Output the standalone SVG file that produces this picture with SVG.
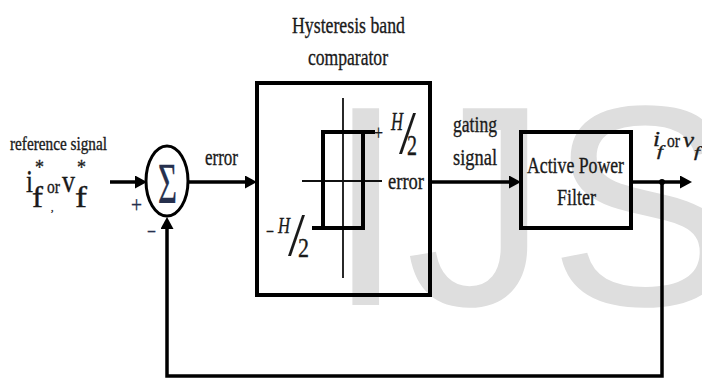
<svg xmlns="http://www.w3.org/2000/svg" width="702" height="379" viewBox="0 0 702 379">
<style>
  text { font-family: "Liberation Serif", "Times New Roman", serif; fill: #1a1a1a; stroke: #1a1a1a; stroke-width: 0.35; }
  .it { font-style: italic; }
  .wm { font-family: "Liberation Sans", Arial, sans-serif; fill: #dedede; stroke: none; font-size: 286px; }
  .box { fill: none; stroke: #000; stroke-width: 4; }
  .wire { fill: none; stroke: #000; stroke-width: 3.5; }
  .axis { fill: none; stroke: #111; stroke-width: 1.8; }
  .loop { fill: none; stroke: #000; stroke-width: 4; }
  .sigma { fill: #26304d; stroke: #26304d; }
  .sl { stroke: none; }
</style>
<defs>
  <marker id="arr" viewBox="0 0 12 13" refX="6" refY="6.5" markerWidth="12" markerHeight="13" markerUnits="userSpaceOnUse" orient="auto">
    <path d="M0,0 L12,6.5 L0,13 z" fill="#000"/>
  </marker>
</defs>
<rect x="0" y="0" width="702" height="379" fill="#fff"/>
<g id="watermark">
  <text class="wm" x="326" y="305">IJS</text>
</g>

<g id="node-reference">
  <text x="10" y="150" font-size="19" textLength="97" lengthAdjust="spacingAndGlyphs">reference signal</text>
  <text x="26" y="192" font-size="32" textLength="7" lengthAdjust="spacingAndGlyphs">i</text>
  <text x="35" y="174" font-size="22" textLength="9" lengthAdjust="spacingAndGlyphs">*</text>
  <text x="32" y="207" font-size="30" textLength="11" lengthAdjust="spacingAndGlyphs">f</text>
  <text x="47" y="193" font-size="18" textLength="13" lengthAdjust="spacingAndGlyphs">or</text>
  <text x="62" y="192" font-size="32" textLength="13" lengthAdjust="spacingAndGlyphs">v</text>
  <text x="77" y="174" font-size="22" textLength="9" lengthAdjust="spacingAndGlyphs">*</text>
  <text x="75" y="207" font-size="30" textLength="12" lengthAdjust="spacingAndGlyphs">f</text>
  <text x="51" y="211" font-size="10">,</text>
</g>

<g id="node-sum">
  <ellipse cx="167" cy="181" rx="21" ry="35" fill="none" stroke="#000" stroke-width="3"/>
  <text class="sigma" x="158" y="203" font-size="57" textLength="19" lengthAdjust="spacingAndGlyphs">Σ</text>
  <text class="sigma" x="131" y="212" font-size="24" textLength="11" lengthAdjust="spacingAndGlyphs">+</text>
  <text class="sigma" x="147" y="239" font-size="22" textLength="9" lengthAdjust="spacingAndGlyphs">−</text>
</g>

<g id="node-hysteresis">
  <text x="292" y="33" font-size="24" textLength="113" lengthAdjust="spacingAndGlyphs">Hysteresis band</text>
  <text x="308" y="65" font-size="24" textLength="80" lengthAdjust="spacingAndGlyphs">comparator</text>
  <rect class="box" x="257" y="83" width="173" height="212"/>
  <line class="axis" x1="343" y1="98" x2="343" y2="278"/>
  <line class="axis" x1="302" y1="181" x2="382" y2="181"/>
  <polyline class="loop" points="375,132 323,132 323,228"/>
  <polyline class="loop" points="312,228 363,228 363,132"/>
  <text x="374" y="140" font-size="20" textLength="9" lengthAdjust="spacingAndGlyphs">+</text>
  <text class="it" x="391" y="130" font-size="26" textLength="12" lengthAdjust="spacingAndGlyphs">H</text>
  <text class="sl" x="399" y="153" font-size="62" textLength="17" lengthAdjust="spacingAndGlyphs">/</text>
  <text x="407" y="155" font-size="29" textLength="10" lengthAdjust="spacingAndGlyphs">2</text>
  <text x="266" y="238" font-size="20" textLength="8" lengthAdjust="spacingAndGlyphs">−</text>
  <text class="it" x="278" y="233" font-size="24" textLength="12" lengthAdjust="spacingAndGlyphs">H</text>
  <text class="sl" x="288" y="255" font-size="62" textLength="17" lengthAdjust="spacingAndGlyphs">/</text>
  <text x="298" y="257" font-size="28" textLength="11" lengthAdjust="spacingAndGlyphs">2</text>
  <text x="388" y="189" font-size="24" textLength="36" lengthAdjust="spacingAndGlyphs">error</text>
</g>

<g id="node-apf">
  <rect class="box" x="521" y="132" width="110" height="96"/>
  <text x="527" y="173" font-size="24" textLength="97" lengthAdjust="spacingAndGlyphs">Active Power</text>
  <text x="557" y="205" font-size="24" textLength="39" lengthAdjust="spacingAndGlyphs">Filter</text>
</g>

<g id="connectors">
  <line class="wire" x1="110" y1="182" x2="141" y2="182" marker-end="url(#arr)"/>
  <line class="wire" x1="188" y1="182" x2="251" y2="182" marker-end="url(#arr)"/>
  <line class="wire" x1="430" y1="182" x2="515" y2="182" marker-end="url(#arr)"/>
  <line class="wire" x1="631" y1="182" x2="686" y2="182" marker-end="url(#arr)"/>
  <circle cx="662" cy="182" r="3" fill="#000"/>
  <polyline class="wire" points="662,182 662,376 167,376 167,223" marker-end="url(#arr)"/>
</g>

<g id="labels">
  <text x="205" y="165" font-size="24" textLength="33" lengthAdjust="spacingAndGlyphs">error</text>
  <text x="453" y="132" font-size="24" textLength="44" lengthAdjust="spacingAndGlyphs">gating</text>
  <text x="453" y="165" font-size="24" textLength="44" lengthAdjust="spacingAndGlyphs">signal</text>
  <text class="it" x="653" y="146" font-size="22" textLength="7" lengthAdjust="spacingAndGlyphs">i</text>
  <text class="it" x="657" y="156" font-size="15" textLength="6" lengthAdjust="spacingAndGlyphs">f</text>
  <text x="667" y="147" font-size="19" textLength="13" lengthAdjust="spacingAndGlyphs">or</text>
  <text class="it" x="683" y="147" font-size="22" textLength="11" lengthAdjust="spacingAndGlyphs">v</text>
  <text class="it" x="694" y="157" font-size="15" textLength="6" lengthAdjust="spacingAndGlyphs">f</text>
</g>
</svg>
